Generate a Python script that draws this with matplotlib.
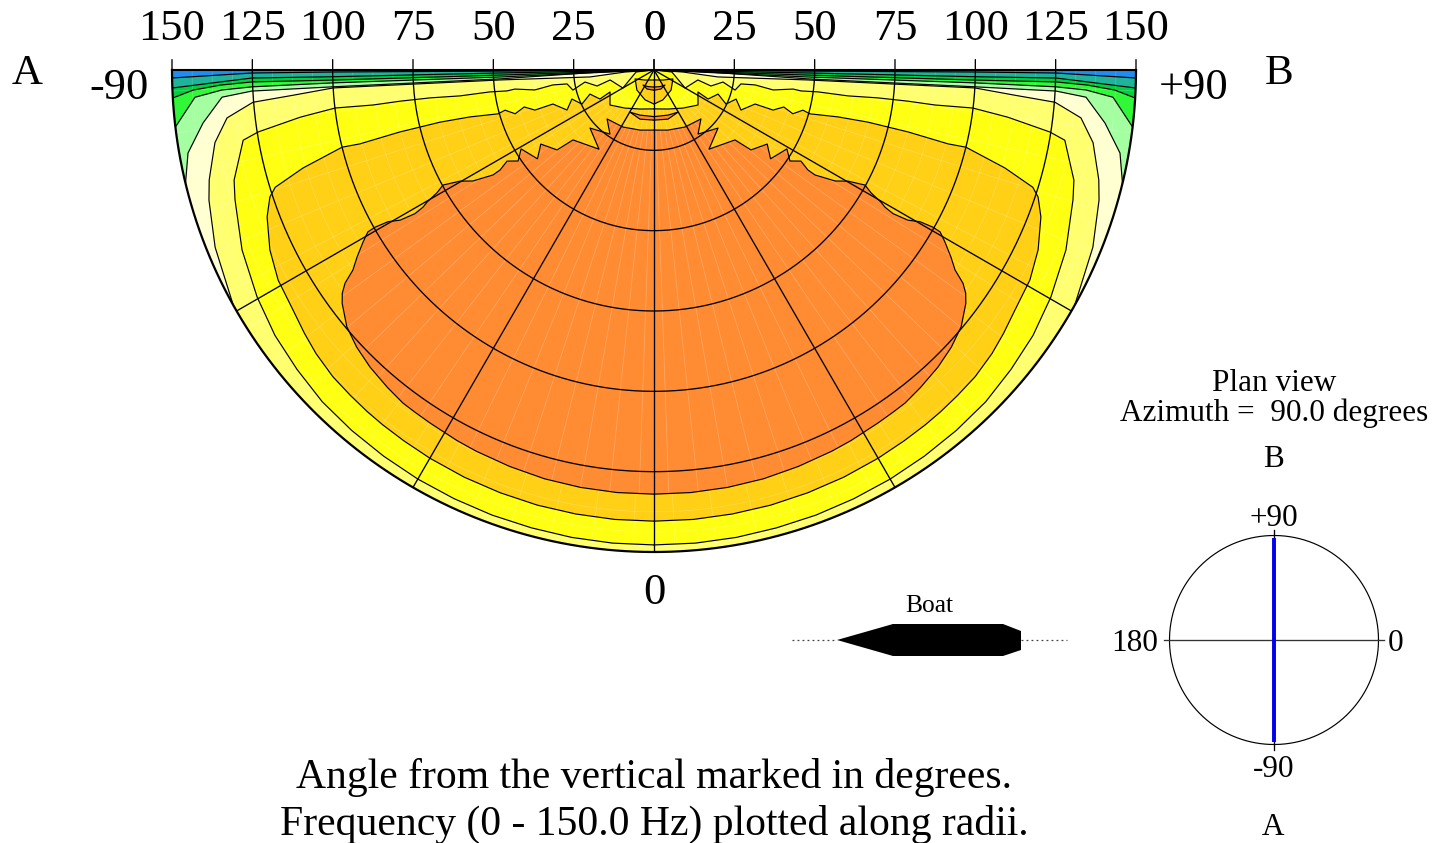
import matplotlib
matplotlib.use('Agg')
import matplotlib.pyplot as plt
import numpy as np

W, H = 1436, 843
plt.rcParams['font.family'] = ['Liberation Serif', 'DejaVu Serif']

# Contours, left half: angle from vertical (deg), frequency (Hz)
teal_ang = [88, 89.6, 89.64, 89.57, 89.05]
teal_frq = [0, 48, 99.9, 125.1, 150]
green_ang = [88, 88.9, 88.8, 88.86, 88.42, 87.86]
green_frq = [0, 48, 99.9, 125.1, 135.1, 150]
bright_ang = [87, 88.1, 88.2, 88.3, 88.0, 87.5, 86.67]
bright_frq = [0, 48, 100, 125.2, 135.1, 143.6, 150]
light_ang = [87, 87.4, 87.7, 87.6, 87.35, 86.6, 83.2]
light_frq = [0, 48, 100, 125.2, 134.6, 143.1, 150]
cream_ang = [87, 87.9, 86.7, 87.0, 87.0, 86.4, 83.3, 79.9, 76.4]
cream_frq = [0, 16.8, 48, 100, 125.3, 134.7, 141.3, 147.3, 150]
pale_ang = [86, 86, 83.8, 86.3, 86.8, 86.0, 85.4, 83.6, 80.6, 76.9, 76.1, 73.7, 68.0, 60.8]
pale_frq = [0, 9, 20, 48, 100, 112.6, 125.2, 133.7, 138.5, 141.8, 142.6, 144.3, 147.3, 150]
yellow_ang = [86, 83.7, 59.9, 77.2, 74.3, 80.1, 76.1, 80.9, 81.6, 80.5, 82.2, 81.9, 82.4, 82.4, 82.9,
              83.0, 82.9, 83.2, 82.4, 81.1, 80.3, 75.3, 72.8, 66.4, 60.2, 55, 50, 45, 40, 35, 30,
              25, 20, 15, 10, 5, 0]
yellow_frq = [0, 5.6, 11.2, 14.0, 18.4, 21.8, 26.0, 27.4, 31.8, 37.6, 43.7, 46.2, 51.5, 60.9, 70.2,
              79.6, 88.1, 99.9, 111.1, 124.7, 129.7, 135.1, 136.5, 139.9, 142.3, 144, 145, 146, 146.4, 146.7, 147,
              147.2, 147.4, 147.5, 147.7, 147.8, 147.8]
gold_ang = [0, 19.7, 37.3, 51.5, 63.4, 61.8, 69.4, 64.7, 70.5, 65.3, 71.4, 71.4, 74.1, 72.5, 74.9, 74.3,
            75.7, 76.3, 76.3, 75.9, 76.1, 74.4, 72.8, 71.7, 69.2, 64.9, 60.8, 56.4, 53, 50, 46.3, 43, 40,
            37.4, 34, 30, 25, 20, 15, 10, 5, 0]
gold_frq = [12.1, 12.9, 14.9, 17.5, 15.3, 19.1, 21.3, 24.8, 27.1, 29.8, 33.2, 39.1, 42.0, 45.3, 48.0, 50.4,
            59.1, 68.5, 81.4, 94.4, 100.0, 113.4, 123.4, 125.9, 128.8, 132.0, 134.0, 134.9, 136.2, 137.3, 138.2, 138.5, 138.8,
            139.0, 139.2, 139.5, 139.8, 140.0, 140.2, 140.3, 140.4, 140.4]
dome_ang = [0, 42, 64.7, 40.4, 16.7, 0]
dome_frq = [3.1, 4.2, 6.5, 8.2, 9.7, 10.6]
orange_ang = [0, 13.1, 28.5, 43.8, 34.5, 47.8, 34.8, 49.2, 50.5, 56.8, 52.7, 59.3, 56.2, 58.2, 57.0, 56.9,
              58.5, 60.2, 61.4, 60.5, 59.8, 59.3, 59.0, 59.4, 60.3, 60.6, 60.5, 59.4, 57.8, 56.4, 55.4,
              54.4, 53.2, 50.1, 47, 43.7, 40, 37, 35, 32.4, 28, 25, 20, 15, 10, 5, 0]
orange_frq = [18.7, 19.2, 20.2, 21.1, 24.2, 26.9, 30.0, 33.3, 39.1, 42.1, 45.6, 48.1, 50.9, 53.8, 57.1, 59.8,
              66.1, 69.6, 74.8, 77.6, 81.7, 83.6, 86.8, 91.8, 95.3, 99.6, 102.3, 105.2, 109.2, 112.5, 116.8,
              119.3, 121.2, 124.6, 126.5, 127.9, 129.0, 129.8, 129.9, 130.1, 130.6, 130.9, 131.3, 131.7, 131.9, 132.0, 132.0]
sliver_ang = [0, 17.3, 29.7, 15.9, 0]
sliver_frq = [14.5, 14.7, 15.1, 15.9, 15.6]
mini_ang = [0, 20, 36, 20, 0]
mini_frq = [5.3, 5.5, 5.8, 6.3, 6.3]

freq_ticks = [150, 125, 100, 75, 50, 25, 0]
angle_spokes = [-60, -30, 0, 30, 60]
freq_arcs = [25, 50, 75, 100, 125]

# Band colours from the outside in
blue = '#1e8cf0'
open_bands = [(teal_ang, teal_frq, '#1fb39b'), (green_ang, green_frq, '#00d040'),
              (bright_ang, bright_frq, '#30f838'), (light_ang, light_frq, '#a4ffa0'),
              (cream_ang, cream_frq, '#ffffd2'), (pale_ang, pale_frq, '#ffff70')]
closed_bands = [(yellow_ang, yellow_frq, '#ffff14'), (gold_ang, gold_frq, '#ffd016'),
                (dome_ang, dome_frq, '#ffd016')]
GOLD_ORANGE = '#ff8c32'


def px(x, y):
    return x / W, 1 - y / H


def label(x, y, s, size, ha='center'):
    fig.text(*px(x, y), s, fontsize=size, ha=ha, va='baseline', color='black')


def mirror(ang, frq):
    a = np.radians(ang)
    return np.r_[-a, a[::-1]], np.r_[frq, frq[::-1]]


def open_polygon(ang, frq):
    # curve from the centre out to the rim, then round the rim to the other side
    a = np.radians(ang)
    frq = np.array(frq, dtype=float)
    rim = np.linspace(-a[-1], a[-1], 200)
    return (np.r_[-a, rim, a[::-1]],
            np.r_[frq, np.full(200, 150.0), frq[::-1]])


def contour(ax, ang, frq):
    a = np.radians(ang)
    for sign in (-1, 1):
        ax.plot(sign * a, frq, color='black', lw=0.85, zorder=4)


fig = plt.figure(figsize=(W / 100, H / 100), dpi=100)

# main half disc, centre (654, 70), radius 482 px; the wedge sits mid-height in a square box
ax = fig.add_axes([172 / W, 1 - 793 / H, 964 / W, 964 / H], projection='polar')
ax.set_theta_zero_location('S')
ax.set_thetamin(-90)
ax.set_thetamax(90)
ax.set_rlim(0, 150)
ax.set_axis_off()

rim_theta = np.linspace(-np.pi / 2, np.pi / 2, 500)
ax.fill(rim_theta, np.full(500, 150.0), color=blue, lw=0, zorder=1)
for ang, frq, col in open_bands:
    t, r = open_polygon(ang, frq)
    ax.fill(t, r, color=col, lw=0, zorder=1)
    contour(ax, ang, frq)
for ang, frq, col in closed_bands:
    t, r = mirror(ang, frq)
    ax.fill(t, r, color=col, lw=0, zorder=1)
    contour(ax, ang, frq)

# faint mesh of the plotting grid
for f in np.arange(6.25, 150, 6.25):
    ax.plot(rim_theta, np.full(500, f), color='white', lw=0.5, alpha=0.22, zorder=2)
for d in np.arange(-87.5, 90, 5):
    ax.plot(np.radians([d, d]), [12, 150], color='white', lw=0.5, alpha=0.25, zorder=2)

t, r = mirror(orange_ang, orange_frq)
orange = ax.fill(t, r, color=GOLD_ORANGE, lw=0, zorder=3)[0]
contour(ax, orange_ang, orange_frq)
for ang, frq in [(sliver_ang, sliver_frq), (mini_ang, mini_frq)]:
    t, r = mirror(ang, frq)
    ax.fill(t, r, color=GOLD_ORANGE, lw=0, zorder=3)
    contour(ax, ang, frq)
for d in np.arange(-86, 90, 4):
    ln, = ax.plot(np.radians([d, d]), [12, 150], color='white', lw=0.55, alpha=0.24, zorder=3.5)
    ln.set_clip_path(orange)

# frequency arcs and angle spokes
for f in freq_arcs:
    ax.plot(rim_theta, np.full(500, f), color='black', lw=0.95, zorder=5)
for d in angle_spokes:
    ax.plot(np.radians([d, d]), [0, 150], color='black', lw=0.95, zorder=5)

ax.plot(rim_theta, np.full(500, 150.0), color='black', lw=1.6, zorder=6, clip_on=False)
ax.plot(np.radians([-90, -90, 90, 90]), [150, 0, 0, 150], color='black', lw=1.5, zorder=6, clip_on=False)

# ticks and labels along the top edge
for f in freq_ticks:
    for sign in (-1, 1):
        th = np.radians(sign * 90)
        ax.annotate('', xy=(th, f), xytext=(0, 7.5), textcoords='offset points',
                    arrowprops=dict(arrowstyle='-', lw=0.95, color='black', shrinkA=0, shrinkB=0),
                    annotation_clip=False)
        ax.annotate(str(f), xy=(th, f), xytext=(0, 21.6), textcoords='offset points',
                    fontsize=32, ha='center', va='baseline', annotation_clip=False)

label(27, 84, 'A', 31)
label(1279, 84, 'B', 31)
label(119, 99, '-90', 32)
label(1194, 99, '+90', 32)
label(654, 604, '0', 32)
label(654, 788, 'Angle from the vertical marked in degrees.', 30)
label(654, 834.5, 'Frequency (0 - 150.0 Hz) plotted along radii.', 30)

# boat outline
boat_x = [837, 893, 1003, 1021, 1021, 1003, 893, 837]
boat_y = [640, 624, 624, 631, 650, 656, 656, 640]
over = fig.add_axes([0, 0, 1, 1])
over.set_xlim(0, W)
over.set_ylim(H, 0)
over.set_axis_off()
over.patch.set_alpha(0)
over.fill(boat_x, boat_y, color='black', lw=0)
over.plot([792, 836], [640, 640], color='#444444', lw=0.9, ls=(0, (1.5, 2.5)))
over.plot([1021, 1067], [640, 640], color='#444444', lw=0.9, ls=(0, (1.5, 2.5)))
label(929, 612, 'Boat', 18.4)

# plan view compass, centre (1274, 640), radius 104.5 px
azimuth_marks = [0, 90, 180, 270]
azimuth = 90
plan = fig.add_axes([1169.5 / W, 1 - 744.5 / H, 209 / W, 209 / H], projection='polar')
plan.set_rlim(0, 1)
plan.set_axis_off()
plan.plot(np.linspace(0, 2 * np.pi, 400), np.ones(400), color='black', lw=0.85, clip_on=False)
for m in azimuth_marks:
    plan.plot(np.radians([m, m]), [0, 1.055], color='#333333' if m % 180 == 0 else 'black',
              lw=0.95, clip_on=False)
plan.plot(np.radians([azimuth, azimuth + 180]), [0.975, 0.975], color='#0000ee', lw=2.8,
          solid_capstyle='butt', zorder=5)

label(1274, 391, 'Plan view', 22.5)
label(1274, 421, 'Azimuth =  90.0 degrees', 22.5)
label(1273, 467, 'B', 22.5)
label(1274, 526, '+90', 22.5)
label(1274, 777, '-90', 22.5)
label(1158, 651, '180', 22.5, ha='right')
label(1396, 651, '0', 22.5)
label(1273, 835, 'A', 22.5)

fig.savefig('out.png', dpi=100)
